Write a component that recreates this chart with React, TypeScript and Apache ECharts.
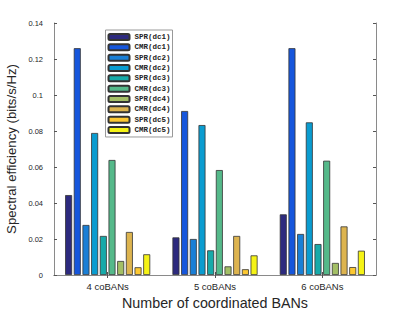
import React, { useEffect, useRef } from "react";
import * as echarts from "echarts";

const categories = ["4 coBANs", "5 coBANs", "6 coBANs"];
const seriesNames = [
  "SPR(dc1)", "CMR(dc1)", "SPR(dc2)", "CMR(dc2)", "SPR(dc3)",
  "CMR(dc3)", "SPR(dc4)", "CMR(dc4)", "SPR(dc5)", "CMR(dc5)",
];
const sprDc1 = [0.0444, 0.0209, 0.0337];
const cmrDc1 = [0.126, 0.0911, 0.126];
const sprDc2 = [0.0278, 0.0200, 0.0228];
const cmrDc2 = [0.0789, 0.0833, 0.0848];
const sprDc3 = [0.0217, 0.0137, 0.0172];
const cmrDc3 = [0.0639, 0.0583, 0.0635];
const sprDc4 = [0.0078, 0.0048, 0.0067];
const cmrDc4 = [0.0239, 0.0217, 0.0270];
const sprDc5 = [0.0043, 0.0032, 0.0044];
const cmrDc5 = [0.0115, 0.0109, 0.0135];
const seriesValues = [sprDc1, cmrDc1, sprDc2, cmrDc2, sprDc3, cmrDc3, sprDc4, cmrDc4, sprDc5, cmrDc5];
const colors = [
  "#2d2a7e", "#1656dc", "#1a7fd6", "#0a9cd0", "#17aaa9",
  "#55b98a", "#a3bf65", "#ddb44f", "#fcc832", "#f5f316",
];

export default function App() {
  const ref = useRef<HTMLDivElement>(null);
  useEffect(() => {
    if (!ref.current) return;
    const chart = echarts.init(ref.current, null, { renderer: "svg" });
    const axisLine = { show: true, lineStyle: { color: "#8a8a8a", width: 1 } };
    const tick = { show: true, inside: true, length: 3, lineStyle: { color: "#555", width: 1 } };
    const font = "Liberation Sans";
    chart.setOption({
      animation: false,
      color: colors,
      grid: { left: 54, right: 39, top: 23, bottom: 37, containLabel: false, outerBoundsMode: "none" },
      legend: {
        orient: "vertical",
        left: 105.5,
        top: 30,
        padding: [3, 2, 3, 2],
        itemGap: 2.33,
        itemWidth: 21,
        itemHeight: 6,
        borderColor: "#999",
        borderWidth: 1,
        backgroundColor: "#fff",
        data: seriesNames,
        textStyle: {
          fontFamily: "Liberation Mono",
          fontSize: 7.5,
          fontWeight: "bold",
          color: "#222",
          lineHeight: 7,
        },
      },
      xAxis: [
        {
          type: "category",
          data: categories,
          axisLine,
          axisTick: { ...tick, alignWithLabel: true },
          axisLabel: { fontFamily: font, fontSize: 9.5, color: "#262626", margin: 6 },
          name: "Number of coordinated BANs",
          nameLocation: "middle",
          nameGap: 15,
          nameTextStyle: { fontFamily: font, fontSize: 14.3, color: "#262626" },
        },
        {
          type: "category",
          data: categories,
          position: "top",
          axisLine,
          axisTick: { ...tick, alignWithLabel: true },
          axisLabel: { show: false },
        },
      ],
      yAxis: [
        {
          type: "value",
          min: 0,
          max: 0.14,
          interval: 0.02,
          axisLine,
          axisTick: tick,
          splitLine: { show: false },
          axisLabel: {
            fontFamily: font,
            fontSize: 7.5,
            color: "#262626",
            margin: 11,
            formatter: (v: number) => (v === 0 ? "0" : String(parseFloat(v.toFixed(2)))),
          },
          name: "Spectral efficiency (bits/s/Hz)",
          nameLocation: "middle",
          nameGap: 22,
          nameTextStyle: { fontFamily: font, fontSize: 13.2, color: "#262626" },
        },
        {
          type: "value",
          min: 0,
          max: 0.14,
          interval: 0.02,
          position: "right",
          axisLine,
          axisTick: tick,
          splitLine: { show: false },
          axisLabel: { show: false },
        },
      ],
      series: seriesNames.map((name, i) => ({
        name,
        type: "bar",
        data: seriesValues[i],
        barWidth: 7,
        barGap: "24%",
        itemStyle: { color: colors[i], borderColor: "#333", borderWidth: 0.8 },
      })),
    });
    return () => chart.dispose();
  }, []);
  return (
    <div
      ref={ref}
      style={{ position: "fixed", left: 0, top: 0, width: 415, height: 312, background: "#fff" }}
    />
  );
}
